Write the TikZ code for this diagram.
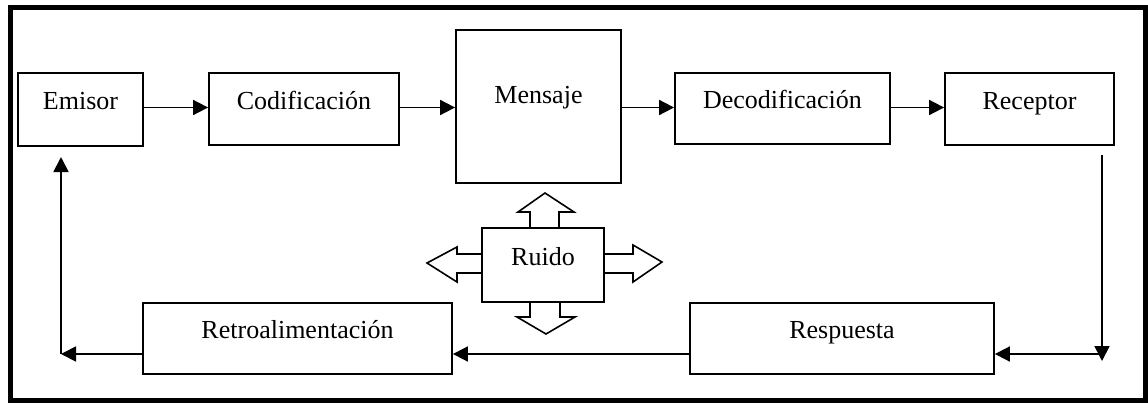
\documentclass[tikz,border=0pt]{standalone}
\usepackage{fontspec}
\setmainfont{Liberation Serif}
\usetikzlibrary{arrows.meta,calc}
\begin{document}
\begin{tikzpicture}[x=1pt,y=-1pt,
  box/.style={draw, line width=1.8pt, inner sep=0pt, text height=9pt, text depth=9pt, font=\fontsize{26}{30}\selectfont},
  arr/.style={line width=1.8pt, -{Triangle[length=15pt,width=15pt]}},
  blockarrow/.style={draw, line width=1.6pt, line join=miter}]
\useasboundingbox (0,0) rectangle (1148,404);
\draw[line width=5pt] (10,8) rectangle (1145,400);

\node[box, minimum width=125pt, minimum height=73pt] (emisor) at (80.5,109.5) {Emisor};
\node[box, minimum width=190pt, minimum height=72pt] (codif) at (304,109) {Codificación};
\node[box, minimum width=165pt, minimum height=153pt, text depth=16pt] (mensaje) at (538.5,106.5) {Mensaje};
\node[box, minimum width=215pt, minimum height=71pt] (decod) at (782.5,108.5) {Decodificación};
\node[box, minimum width=169pt, minimum height=72pt] (receptor) at (1029.5,109) {Receptor};
\node[box, minimum width=122pt, minimum height=74pt] (ruido) at (543,265) {Ruido};
\node[box, minimum width=309pt, minimum height=71pt] (retro) at (297.5,338.5) {Retroalimentación};
\node[box, minimum width=304pt, minimum height=71pt] (resp) at (842,338.5) {Respuesta};

\coordinate (rtop) at (1102,155);
\coordinate (rbot) at (1102,361);
\coordinate (fb) at (1102,354);
\coordinate (lcorner) at (61,354);
\coordinate (ltop) at (61,157);
\coordinate (top) at (0,107.5);

\draw[arr] (emisor.east |- top) -- (codif.west |- top);
\draw[arr] (codif.east |- top) -- (mensaje.west |- top);
\draw[arr] (mensaje.east |- top) -- (decod.west |- top);
\draw[arr] (decod.east |- top) -- (receptor.west |- top);
\draw[arr] (rtop) -- (rbot);
\draw[arr] (fb) -- (fb -| resp.east);
\draw[arr] (fb -| resp.west) -- (fb -| retro.east);
\draw[arr] (fb -| retro.west) -- (lcorner);
\draw[arr] (lcorner) -- (ltop);

\draw[blockarrow] (530,228) -- (530,212) -- (518,212) -- (545,193) -- (574,212) -- (559,212) -- (559,228);
\draw[blockarrow] (530,302) -- (530,317) -- (517,317) -- (546,334) -- (575,317) -- (560,317) -- (560,302);
\draw[blockarrow] (482,254) -- (457,254) -- (457,247) -- (427,263) -- (457,282) -- (457,273) -- (482,273);
\draw[blockarrow] (604,254) -- (633,254) -- (633,245) -- (662,262) -- (633,282) -- (633,273) -- (604,273);
\end{tikzpicture}
\end{document}
